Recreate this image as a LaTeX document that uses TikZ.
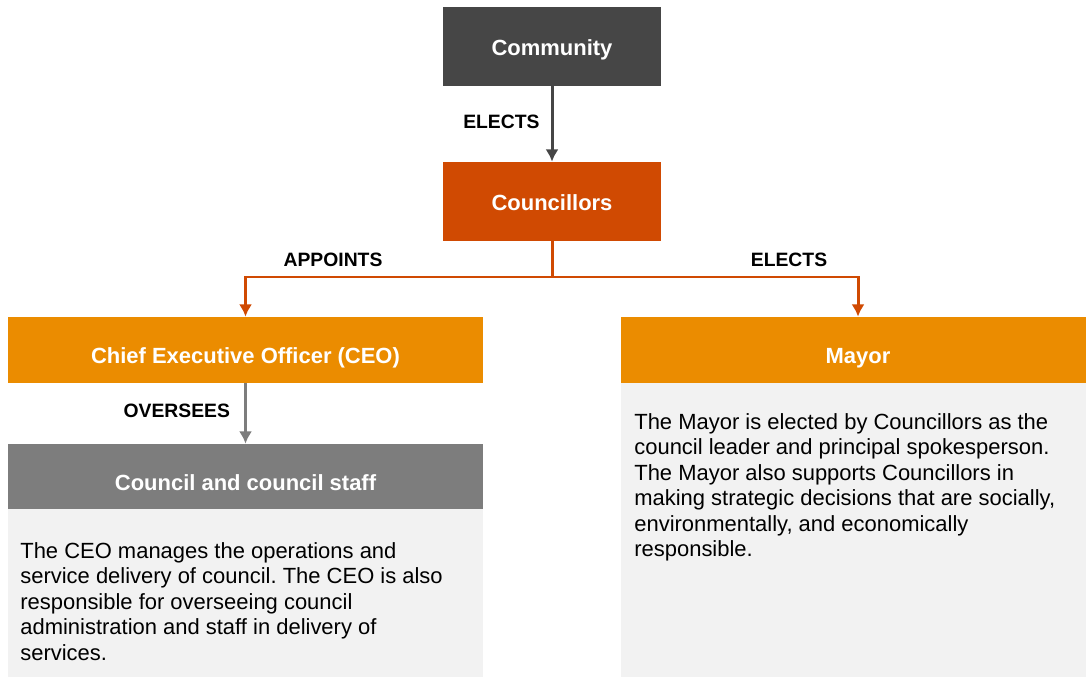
\documentclass[tikz,border=0pt]{standalone}
\usepackage{fontspec}
\setmainfont{Liberation Sans}
\usetikzlibrary{positioning, arrows.meta}
\definecolor{commgray}{HTML}{464646}
\definecolor{councred}{HTML}{D04A02}
\definecolor{ceoorange}{HTML}{EB8C00}
\definecolor{staffgray}{HTML}{7D7D7D}
\definecolor{bodygray}{HTML}{F2F2F2}
\frenchspacing

\begin{document}
\begin{tikzpicture}[>={Latex[length=7pt, width=7.5pt]},
    box/.style={inner sep=0pt, text=white, text depth=2.6pt, font=\bfseries\fontsize{12.5}{15}\selectfont},
    lbl/.style={inner sep=0pt, font=\bfseries\fontsize{11}{13}\selectfont},
    body/.style={inner sep=0pt, anchor=north west, align=left, font=\fontsize{12.5}{14.5}\selectfont}]
    \useasboundingbox (0, 0) rectangle (21.72, -13.54);

    \node[box, fill=commgray, minimum width=4.36cm, minimum height=1.58cm, text height=12.5pt] (comm) at (11.04, -0.93) {Community};
    \node[box, fill=councred, minimum width=4.36cm, minimum height=1.58cm, text height=12.5pt] (counc) at (11.04, -4.03) {Councillors};
    \node[box, fill=ceoorange, minimum width=9.5cm, minimum height=1.32cm, text height=18pt] (ceo) at (4.91, -7.0) {Chief Executive Officer (CEO)};
    \node[box, fill=ceoorange, minimum width=9.48cm, minimum height=1.32cm, text height=18pt] (mayor) at (17.16, -7.0) {Mayor};
    \node[box, fill=staffgray, minimum width=9.5cm, minimum height=1.3cm, text height=19pt] (staff) at (4.91, -9.53) {Council and council staff};

    % grey panels under the headings
    \fill[bodygray] (staff.south west) rectangle (9.66, -13.54);
    \fill[bodygray] (mayor.south west) rectangle (mayor.east |- 0, -13.54);

    \node[body] (stafftext) at (0.4, -10.84) {The CEO manages the operations and\\
        service delivery of council. The CEO is also\\
        responsible for overseeing council\\
        administration and staff in delivery of\\
        services.};
    \node[body] (mayortext) at (12.68, -8.26) {The Mayor is elected by Councillors as the\\
        council leader and principal spokesperson.\\
        The Mayor also supports Councillors in\\
        making strategic decisions that are socially,\\
        environmentally, and economically\\
        responsible.};

    \draw[->, commgray, line width=1.7pt] (comm) -- (counc) node[lbl, black, midway, left=0.22cm, yshift=1.5pt]{ELECTS};

    \coordinate (split) at (11.04, -5.54);
    \draw[councred, line width=1.7pt] (counc) -- (split);
    \draw[->, councred, line width=1.7pt] (split) -| (ceo.north);
    \draw[->, councred, line width=1.7pt] (split) -| (mayor.north);
    \node[lbl] (appoints) at (6.66, -5.2) {APPOINTS};
    \node[lbl] (elects) at (15.78, -5.2) {ELECTS};

    \draw[->, staffgray, line width=1.7pt] (ceo) -- (staff) node[lbl, black, midway, left=0.28cm, yshift=1.5pt]{OVERSEES};
\end{tikzpicture}
\end{document}
